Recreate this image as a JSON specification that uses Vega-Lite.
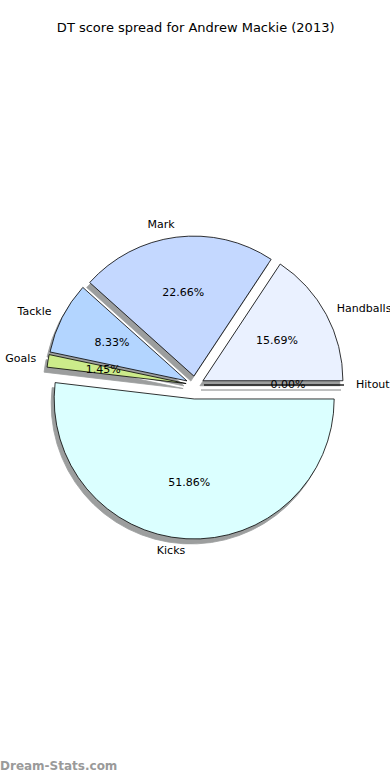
{
  "$schema": "https://vega.github.io/schema/vega-lite/v6.json",
  "padding": {"top": 22, "left": 0, "right": 0, "bottom": 0},
  "background": "white",
  "title": {"text": "DT score spread for Andrew Mackie (2013)", "font": "DejaVu Sans", "fontSize": 13, "fontWeight": "normal", "color": "black", "anchor": "middle", "offset": 8},
  "config": {"view": {"stroke": null}, "concat": {"spacing": 0}},
  "vconcat": [
    {
      "width": 390,
      "height": 684,
      "title": {"text": "Dream-Stats.com", "orient": "bottom", "anchor": "start", "color": "#9a9a9a", "fontSize": 12, "fontWeight": "bold", "font": "DejaVu Sans", "offset": 34},
      "data": {
        "values": [
          {"n": 1, "cat": "Handballs", "share": 0.1569},
          {"n": 2, "cat": "Mark", "share": 0.2266},
          {"n": 3, "cat": "Tackle", "share": 0.0833},
          {"n": 4, "cat": "Goals", "share": 0.0145},
          {"n": 5, "cat": "Kicks", "share": 0.5186},
          {"n": 6, "cat": "Hitout", "share": 0.0}
        ]
      },
      "layer": [
        {
          "mark": {"type": "arc", "radius": 140, "fill": "#9c9e9e", "stroke": "#9c9e9e", "strokeWidth": 0.8,
            "xOffset": {"expr": "(datum.cat == 'Kicks' ? 14 : 9) * cos(PI * (datum.share_start + datum.share_end)) - 3"},
            "yOffset": {"expr": "-(datum.cat == 'Kicks' ? 14 : 9) * sin(PI * (datum.share_start + datum.share_end)) + 5"}},
          "encoding": {
            "theta": {"field": "share", "type": "quantitative", "stack": true, "scale": {"range": [1.5707963, -4.712389]}},
            "order": {"field": "n", "type": "quantitative"}
          }
        },
        {
          "mark": {"type": "arc", "radius": 140, "stroke": "black", "strokeWidth": 0.8,
            "xOffset": {"expr": "(datum.cat == 'Kicks' ? 14 : 9) * cos(PI * (datum.share_start + datum.share_end))"},
            "yOffset": {"expr": "-(datum.cat == 'Kicks' ? 14 : 9) * sin(PI * (datum.share_start + datum.share_end))"}},
          "encoding": {
            "theta": {"field": "share", "type": "quantitative", "stack": true, "scale": {"range": [1.5707963, -4.712389]}},
            "order": {"field": "n", "type": "quantitative"},
            "color": {"field": "cat", "type": "nominal", "legend": null,
              "scale": {"domain": ["Handballs", "Mark", "Tackle", "Goals", "Kicks", "Hitout"],
                        "range": ["#eaf1ff", "#c4d8ff", "#b3d5ff", "#cceb8a", "#dbffff", "#e8e8e8"]}}
          }
        },
        {
          "mark": {"type": "text", "radius": 84, "font": "DejaVu Sans", "fontSize": 11, "color": "black", "align": "center", "baseline": "middle",
            "xOffset": {"expr": "(datum.cat == 'Kicks' ? 14 : 9) * cos(PI * (datum.share_start + datum.share_end))"},
            "yOffset": {"expr": "-(datum.cat == 'Kicks' ? 14 : 9) * sin(PI * (datum.share_start + datum.share_end))"}},
          "encoding": {
            "theta": {"field": "share", "type": "quantitative", "stack": true, "scale": {"range": [1.5707963, -4.712389]}},
            "order": {"field": "n", "type": "quantitative"},
            "text": {"field": "share", "type": "quantitative", "format": ".2%"}
          }
        },
        {
          "mark": {"type": "text", "radius": 152, "font": "DejaVu Sans", "fontSize": 11, "color": "black", "baseline": "middle",
            "align": {"expr": "cos(PI * (datum.share_start + datum.share_end)) > 0 ? 'left' : 'right'"},
            "xOffset": {"expr": "(datum.cat == 'Kicks' ? 14 : 9) * cos(PI * (datum.share_start + datum.share_end))"},
            "yOffset": {"expr": "-(datum.cat == 'Kicks' ? 14 : 9) * sin(PI * (datum.share_start + datum.share_end))"}},
          "encoding": {
            "theta": {"field": "share", "type": "quantitative", "stack": true, "scale": {"range": [1.5707963, -4.712389]}},
            "order": {"field": "n", "type": "quantitative"},
            "text": {"field": "cat", "type": "nominal"}
          }
        }
      ]
    }
  ]
}
